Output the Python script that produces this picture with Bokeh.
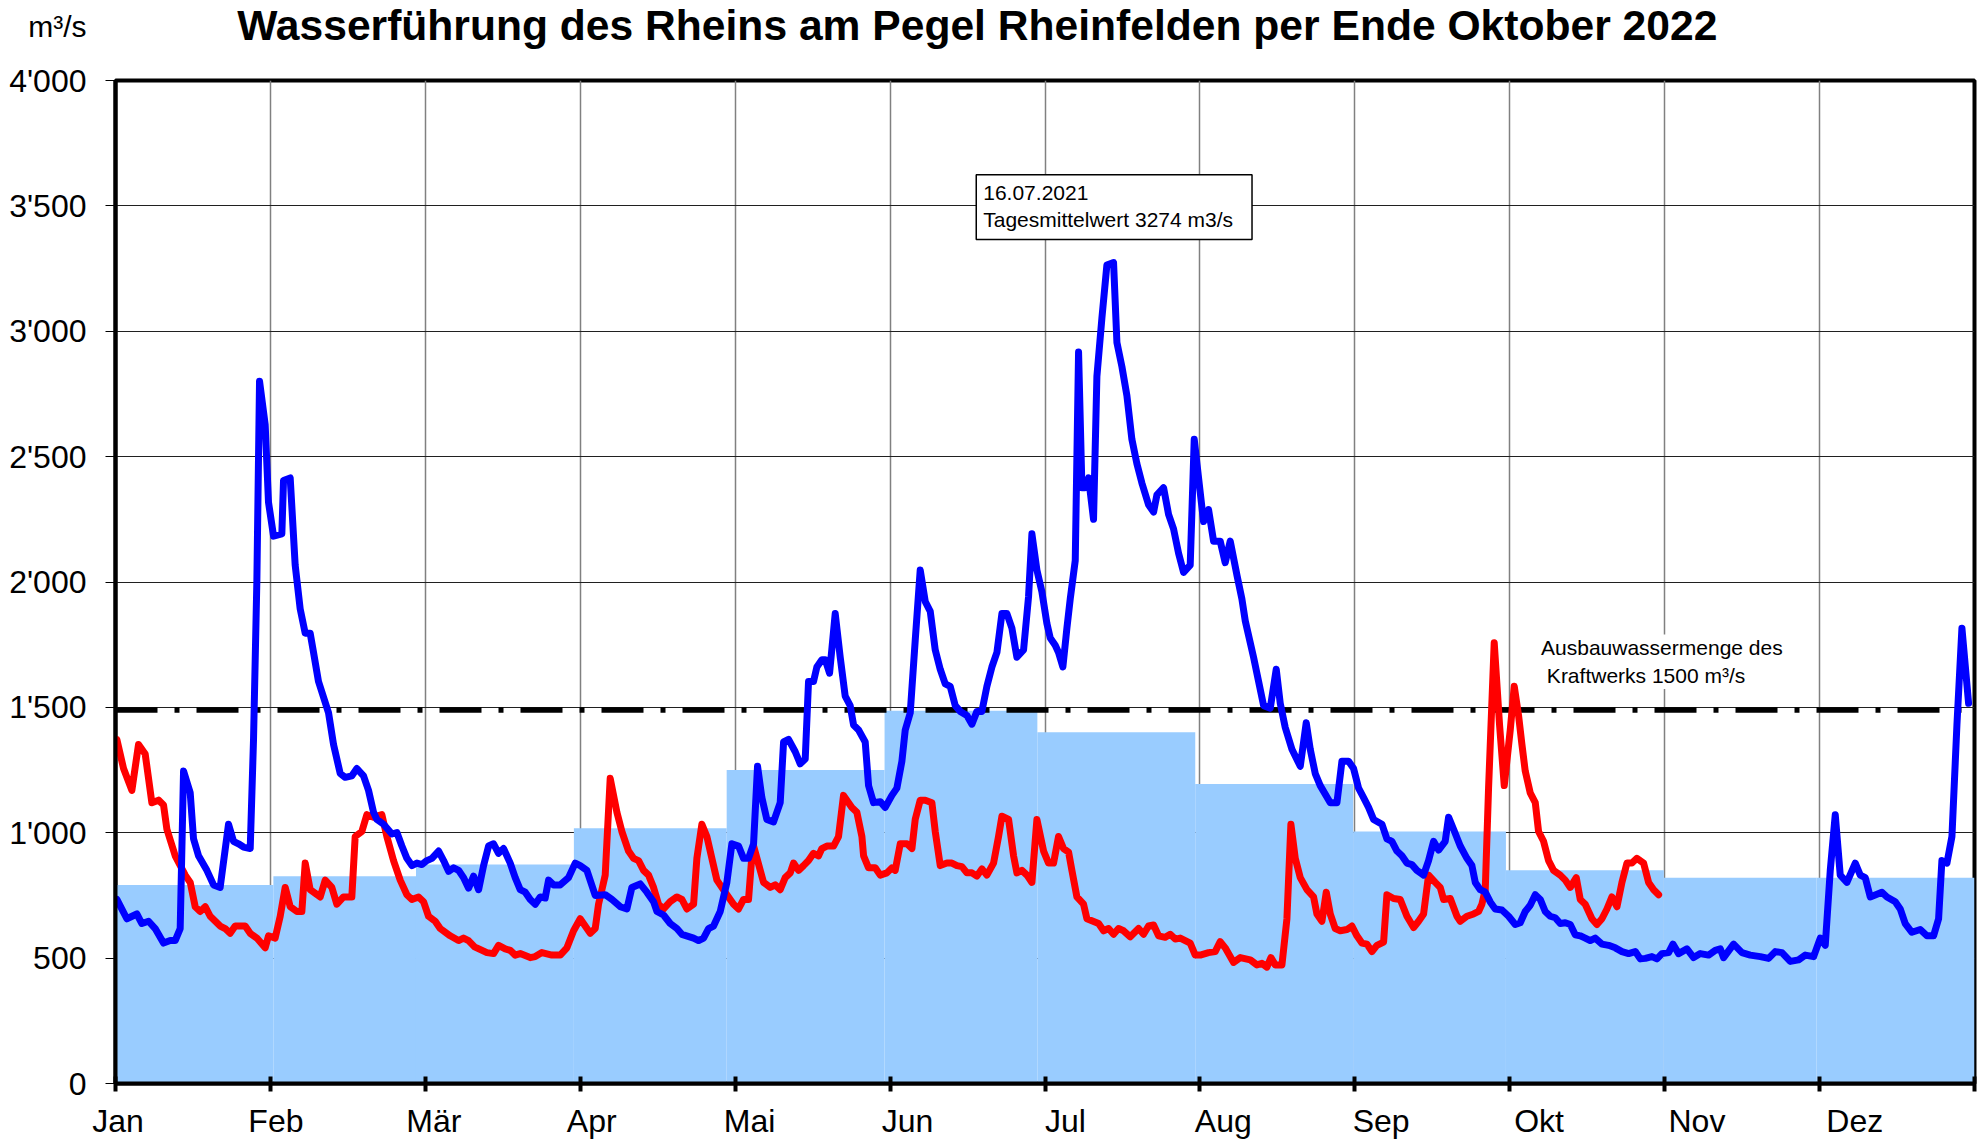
from bokeh.plotting import figure
from bokeh.layouts import column
from bokeh.models import Range1d, FixedTicker, Label
from bokeh.core.properties import value
from bokeh.embed import file_html
from bokeh.resources import INLINE

# ---------------- data ----------------
months = ["Jan", "Feb", "Mär", "Apr", "Mai", "Jun", "Jul", "Aug", "Sep", "Okt", "Nov", "Dez"]
month_days = [31, 28, 31, 30, 31, 30, 31, 31, 30, 31, 30, 31]
# long-term monthly mean discharge (light blue steps), m3/s
monthly_mean = [792, 827, 873, 1018, 1250, 1487, 1401, 1194, 1005, 850, 821, 821]

y_ticks = [0, 500, 1000, 1500, 2000, 2500, 3000, 3500, 4000]
y_tick_labels = ["0", "500", "1'000", "1'500", "2'000", "2'500", "3'000", "3'500", "4'000"]

ausbau_level = 1490  # dash-dot line "Ausbauwassermenge"

# 2021 daily discharge (blue), day of year / m3/s
blue_day = [0.27, 2.23, 4.19, 5.18, 6.49, 7.79, 9.43, 10.74, 11.72, 12.70, 13.36, 14.67, 15.32, 16.30, 17.94,
            19.25, 20.55, 22.19, 23.17, 24.15, 25.14, 26.45, 27.10, 27.76, 28.28, 29.39, 30.04, 31.03, 32.66,
            32.99, 34.30, 35.28, 36.26, 37.24, 38.22, 38.88, 39.86, 41.83, 42.81, 44.12, 45.10, 46.41, 47.39,
            48.70, 49.68, 50.66, 51.32, 52.63, 54.27, 55.25, 56.23, 57.21, 58.20, 59.18, 60.16, 61.14, 62.13,
            63.44, 64.42, 65.40, 66.38, 67.36, 68.35, 69.33, 70.31, 71.29, 72.27, 73.25, 74.23, 75.21, 76.19,
            77.50, 78.48, 79.46, 80.45, 81.43, 82.41, 83.39, 84.37, 85.03, 86.01, 87.32, 88.95, 90.26, 91.24,
            92.55, 94.19, 96.15, 97.46, 99.10, 100.41, 101.39, 103.02, 104.33, 105.64, 106.30, 107.60, 108.91,
            110.22, 111.20, 113.50, 114.48, 115.46, 116.44, 117.42, 118.73, 120.04, 121.02, 122.33, 123.31,
            124.29, 125.28, 126.06, 126.91, 127.89, 129.20, 130.51, 131.17, 132.15, 133.46, 134.44, 135.42,
            136.07, 137.05, 137.71, 138.69, 139.35, 140.20, 141.31, 142.29, 143.27, 144.25, 144.91, 145.90,
            147.20, 147.86, 148.84, 150.15, 151.13, 152.44, 153.42, 154.40, 155.06, 156.04, 157.02, 158.00,
            158.99, 159.97, 160.95, 161.93, 162.91, 163.89, 164.88, 165.86, 167.17, 168.15, 169.13, 170.11,
            171.09, 172.07, 173.06, 174.04, 175.02, 176.00, 176.98, 178.29, 179.27, 179.93, 180.91, 181.89,
            182.87, 183.53, 184.51, 185.16, 186.01, 186.80, 187.45, 188.44, 189.09, 189.75, 190.40, 191.05,
            192.03, 192.69, 193.67, 194.65, 195.96, 196.62, 197.60, 198.58, 199.56, 200.54, 201.52, 202.83,
            203.82, 204.47, 205.78, 206.76, 207.74, 208.72, 209.71, 211.01, 211.80, 212.65, 213.63, 214.61,
            215.60, 216.90, 217.88, 218.87, 220.18, 221.16, 221.82, 223.45, 224.44, 225.42, 226.73, 227.90,
            228.69, 229.67, 230.98, 232.62, 233.79, 234.58, 235.56, 236.54, 238.51, 239.82, 240.80, 242.11,
            243.09, 244.07, 245.05, 246.03, 247.01, 248.65, 249.63, 250.61, 251.60, 252.58, 253.56, 254.54,
            255.52, 256.83, 257.81, 258.79, 259.78, 261.08, 261.74, 262.72, 264.03, 265.34, 266.32, 266.98,
            267.96, 268.94, 269.92, 270.90, 272.21, 273.52, 274.83, 275.81, 276.79, 277.77, 278.76, 279.74,
            280.72, 281.70, 282.68, 283.67, 284.65, 285.63, 286.61, 287.59, 288.57, 289.55, 290.53, 291.85,
            293.16, 294.47, 295.78, 297.09, 298.40, 299.38, 300.36, 301.67, 302.65, 303.63, 304.94, 305.79,
            306.90, 308.54, 309.85, 311.16, 312.79, 314.10, 315.08, 315.74, 317.70, 319.34, 320.97, 322.94,
            324.57, 325.88, 327.19, 328.83, 330.46, 331.77, 333.41, 334.72, 335.70, 336.68, 337.66, 338.64,
            339.95, 341.59, 342.57, 343.55, 344.53, 346.82, 347.81, 349.44, 350.42, 351.40, 352.71, 354.35,
            355.66, 356.97, 357.95, 358.60, 359.59, 360.57, 361.55, 362.53, 363.84]
blue_val = [734, 657, 676, 638, 647, 618, 560, 570, 570, 618, 1246, 1159, 976, 908, 850,
            792, 782, 1034, 966, 956, 943, 937, 1372, 2009, 2801, 2627, 2318, 2183, 2192,
            2405, 2415, 2067, 1893, 1796, 1796, 1719, 1603, 1478, 1352, 1236, 1221, 1227, 1256,
            1227, 1169, 1082, 1053, 1034, 995, 1001, 947, 898, 869, 879, 873, 889, 898,
            927, 889, 846, 860, 850, 821, 779, 827, 773, 869, 947, 956, 918, 937,
            879, 821, 773, 763, 734, 715, 744, 740, 811, 792, 792, 821, 879, 869,
            850, 750, 753, 734, 705, 696, 782, 796, 763, 725, 686, 672, 638,
            618, 595, 580, 570, 580, 618, 628, 686, 802, 956, 947, 898,
            898, 956, 1265, 1140, 1053, 1043, 1120, 1362, 1372, 1323, 1275, 1294,
            1603, 1603, 1661, 1690, 1690, 1636, 1874, 1700, 1545, 1507, 1430, 1410,
            1362, 1188, 1120, 1124, 1101, 1149, 1178, 1285, 1410, 1478, 1768, 2048,
            1922, 1883, 1729, 1652, 1594, 1584, 1507, 1484, 1468, 1433, 1484, 1484,
            1584, 1661, 1719, 1874, 1874, 1816, 1700, 1729, 1941, 2192, 2048, 1961,
            1835, 1777, 1748, 1719, 1661, 1816, 1932, 2086, 2917, 2376, 2376, 2415,
            2250, 2820, 3052, 3264, 3274, 2955, 2859, 2743, 2569, 2472, 2395, 2308,
            2279, 2347, 2376, 2270, 2212, 2115, 2038, 2067, 2569, 2415, 2241, 2289,
            2163, 2163, 2077, 2163, 2028, 1932, 1845, 1700, 1603, 1507, 1497, 1652,
            1516, 1420, 1333, 1265, 1439, 1333, 1236, 1188, 1120, 1120, 1285, 1285,
            1256, 1178, 1140, 1101, 1053, 1034, 976, 966, 927, 908, 879, 873,
            850, 831, 889, 966, 931, 966, 1062, 1014, 947, 898, 869, 802,
            773, 763, 724, 696, 692, 667, 634, 641, 686, 711, 753, 734,
            686, 667, 661, 638, 641, 634, 593, 589, 580, 570, 580, 556,
            551, 541, 526, 518, 526, 497, 499, 506, 497, 518, 522, 556,
            518, 537, 502, 518, 512, 531, 537, 502, 556, 522, 512, 506,
            499, 526, 522, 487, 493, 512, 506, 580, 551, 850, 1072, 831,
            802, 879, 831, 821, 744, 763, 744, 725, 696, 638, 603, 614,
            589, 589, 657, 889, 879, 985, 1430, 1816, 1516]

# 2022 daily discharge until end of October (red)
red_day = [0.27, 1.58, 3.21, 4.52, 5.83, 7.14, 8.45, 9.43, 10.09, 11.72, 13.69, 14.67, 15.65, 16.63, 17.61,
           18.59, 20.55, 21.53, 22.51, 23.50, 25.46, 26.44, 27.75, 29.39, 30.04, 31.35, 32.34, 33.32, 34.30,
           35.61, 36.59, 37.25, 38.22, 40.19, 41.17, 42.48, 43.46, 44.77, 46.40, 47.06, 48.37, 49.35, 50.66,
           52.30, 53.28, 54.59, 55.90, 57.21, 58.19, 59.50, 60.48, 61.46, 62.77, 63.75, 65.71, 67.35, 68.33,
           69.31, 70.50, 72.92, 74.23, 75.21, 76.52, 77.50, 78.48, 79.46, 81.43, 82.41, 83.72, 85.68, 87.32,
           88.63, 89.94, 91.24, 92.22, 93.21, 94.19, 94.84, 95.50, 96.15, 97.13, 98.44, 99.42, 100.73, 101.71,
           102.70, 103.68, 104.66, 105.64, 106.62, 107.60, 108.91, 110.22, 111.20, 112.19, 113.50, 114.15,
           115.13, 116.11, 117.42, 118.08, 120.04, 121.35, 122.33, 123.31, 124.29, 124.95, 125.28, 127.24,
           128.55, 129.53, 130.51, 131.49, 132.48, 133.13, 134.11, 135.09, 136.07, 137.05, 138.04, 138.69,
           139.67, 140.98, 141.96, 142.94, 143.93, 144.58, 145.56, 146.55, 146.88, 147.86, 149.17, 150.15,
           151.46, 152.44, 153.09, 154.08, 155.39, 156.37, 157.02, 158.00, 158.99, 160.29, 160.95, 161.93,
           163.24, 164.22, 165.20, 166.18, 167.17, 168.15, 169.13, 170.11, 171.09, 172.40, 173.38, 174.04,
           175.35, 176.33, 176.98, 177.96, 178.95, 179.93, 180.91, 182.22, 183.20, 184.18, 185.16, 186.14,
           187.13, 187.78, 188.76, 190.07, 190.73, 193.02, 194.00, 194.98, 195.96, 196.94, 197.93, 199.24,
           200.87, 201.85, 202.83, 203.82, 204.80, 206.11, 207.09, 208.07, 209.05, 210.03, 211.01, 212.00,
           212.98, 214.61, 215.92, 216.90, 217.88, 219.53, 220.84, 222.80, 224.11, 225.09, 226.07, 226.86,
           227.71, 229.02, 230.00, 230.78, 231.64, 232.62, 233.93, 235.23, 235.89, 236.87, 237.72, 238.51,
           239.49, 240.47, 241.78, 242.76, 243.74, 244.72, 245.71, 246.69, 247.67, 248.98, 249.63, 250.94,
           252.25, 253.56, 254.87, 255.85, 256.83, 257.81, 259.12, 260.10, 260.76, 262.07, 263.38, 264.03,
           265.34, 266.65, 267.63, 268.28, 268.94, 269.59, 270.70, 271.75, 272.67, 273.85, 274.63, 275.48,
           276.14, 276.79, 277.77, 278.76, 279.41, 280.39, 281.37, 282.35, 283.66, 284.65, 285.63, 286.81,
           287.59, 288.57, 289.88, 290.86, 291.85, 292.83, 293.81, 294.80, 295.78, 296.76, 297.74, 298.72,
           300.03, 301.01, 302.00, 302.98]
red_val = [1372, 1256, 1169, 1352, 1314, 1120, 1130, 1111, 1014, 908, 831, 802, 705, 686, 705,
           667, 628, 618, 599, 628, 628, 599, 580, 541, 589, 580, 667, 782, 705,
           686, 686, 879, 773, 744, 811, 782, 715, 744, 744, 985, 1005, 1072, 1062,
           1072, 985, 889, 811, 753, 734, 744, 725, 667, 647, 618, 589, 570, 580,
           570, 545, 522, 518, 551, 537, 531, 512, 518, 502, 506, 522, 512, 512,
           541, 609, 657, 628, 599, 618, 715, 773, 831, 1217, 1082, 1005, 927, 898,
           889, 850, 831, 782, 715, 696, 725, 744, 734, 696, 715, 898,
           1034, 985, 869, 811, 753, 715, 696, 734, 734, 908, 947, 802,
           782, 792, 773, 821, 840, 879, 850, 869, 889, 918, 908, 937,
           947, 947, 985, 1149, 1120, 1101, 1082, 985, 908, 860, 860, 831,
           840, 860, 850, 956, 956, 937, 1053, 1130, 1130, 1120, 1005, 869,
           879, 879, 869, 865, 840, 840, 827, 856, 831, 879, 985, 1066,
           1053, 908, 840, 850, 831, 802, 1053, 927, 879, 879, 985, 937,
           923, 850, 744, 715, 657, 638, 609, 618, 595, 618, 609, 585,
           618, 595, 628, 632, 589, 583, 595, 576, 580, 570, 560, 512,
           512, 522, 526, 566, 541, 483, 502, 493, 473, 479, 464, 502,
           473, 473, 657, 1034, 898, 821, 773, 744, 676, 647, 763, 676,
           618, 609, 614, 628, 589, 560, 556, 526, 551, 564, 753, 738,
           734, 667, 622, 647, 676, 831, 802, 782, 734, 738, 667, 647,
           667, 676, 686, 715, 773, 1178, 1758, 1430, 1188, 1410, 1584, 1468,
           1352, 1246, 1159, 1120, 1005, 966, 889, 850, 831, 811, 782, 821,
           734, 715, 657, 634, 657, 696, 744, 705, 802, 879, 879, 898,
           879, 802, 773, 753]

title_text = "Wasserführung des Rheins am Pegel Rheinfelden per Ende Oktober 2022"
unit_text = "m³/s"
peak_text = "16.07.2021\nTagesmittelwert 3274 m3/s"
ausbau_text = "Ausbauwassermenge des\n\u00a0Kraftwerks 1500 m³/s"

# ---------------- layout constants ----------------
FONT = "Liberation Sans"
W = 1980
HEAD_H = 52
MAIN_H = 1141 - HEAD_H
n_days = sum(month_days)

# ---------------- header strip (title + unit) ----------------
head = figure(width=W, height=HEAD_H, title=None,
              x_range=Range1d(0, n_days), y_range=Range1d(0, HEAD_H),
              x_axis_type=None, toolbar_location=None, output_backend="svg",
              min_border_left=115, min_border_right=6, min_border_top=0, min_border_bottom=0)
head.outline_line_color = None
head.background_fill_color = "white"
head.border_fill_color = "white"
head.ygrid.visible = False
hy = head.yaxis[0]
hy.ticker = FixedTicker(ticks=[])
hy.axis_line_color = None
hy.major_tick_line_color = None
hy.minor_tick_line_color = None
hy.axis_label = unit_text
hy.axis_label_orientation = "horizontal"
hy.axis_label_text_font = FONT
hy.axis_label_text_font_style = "normal"
hy.axis_label_text_font_size = "30px"
hy.axis_label_text_color = "black"
hy.axis_label_standoff = 29

head.text(x=[169.2], y=[HEAD_H - 24], text=[title_text], text_font=value(FONT), text_font_style="bold",
          text_font_size="42.6px", text_color="black", text_align="center", text_baseline="alphabetic")

# ---------------- main plot ----------------
p = figure(width=W, height=MAIN_H,
           x_range=Range1d(0, n_days), y_range=Range1d(0, 4000),
           output_backend="svg", toolbar_location=None,
           min_border_left=115, min_border_right=6, min_border_top=80 - HEAD_H, min_border_bottom=57)
p.title.text = ""
p.background_fill_color = "white"
p.border_fill_color = "white"
p.outline_line_color = "black"
p.outline_line_width = 4
p.outline_line_alpha = 1.0

# monthly mean steps
lefts = []
acc = 0
for d in month_days:
    lefts.append(acc)
    acc += d
rights = [l + d for l, d in zip(lefts, month_days)]
p.quad(left=lefts, right=rights, bottom=0, top=monthly_mean,
       fill_color="#99CCFF", line_color=None)

# Ausbauwassermenge dash-dot line
p.line(x=[0, n_days], y=[ausbau_level, ausbau_level], line_color="black",
       line_width=5.5, line_dash="42 17 5 17")

# series
p.line(red_day, red_val, line_color="#FF0000", line_width=7, line_join="round", line_cap="round")
p.line(blue_day, blue_val, line_color="#0000FF", line_width=7, line_join="round", line_cap="round")

# ---------------- axes ----------------
grid_pos = [k * n_days / 12 for k in range(13)]
label_pos = [31 * k + 0.5 for k in range(12)]

xa = p.xaxis[0]
xa.ticker = FixedTicker(ticks=label_pos, minor_ticks=grid_pos)
xa.major_label_overrides = {pos: m for pos, m in zip(label_pos, months)}
xa.major_tick_in = 0
xa.major_tick_out = 0
xa.minor_tick_in = 7
xa.minor_tick_out = 8
xa.minor_tick_line_width = 4
xa.minor_tick_line_color = "black"
xa.axis_line_width = 4
xa.axis_line_color = "black"
xa.major_label_text_font = FONT
xa.major_label_text_font_size = "32px"
xa.major_label_text_color = "black"
xa.major_label_standoff = 11

ya = p.yaxis[0]
ya.ticker = FixedTicker(ticks=y_ticks)
ya.major_label_overrides = {t: s for t, s in zip(y_ticks, y_tick_labels)}
ya.major_tick_in = 0
ya.major_tick_out = 10
ya.major_tick_line_width = 1
ya.major_tick_line_color = "black"
ya.minor_tick_line_color = None
ya.axis_line_width = 4
ya.axis_line_color = "black"
ya.major_label_text_font = FONT
ya.major_label_text_font_size = "32px"
ya.major_label_text_color = "black"
ya.major_label_standoff = 19

p.xgrid.ticker = FixedTicker(ticks=grid_pos[1:-1])
p.xgrid.grid_line_color = "#808080"
p.xgrid.grid_line_width = 1.5
p.ygrid.grid_line_color = "#202020"
p.ygrid.grid_line_width = 1

# ---------------- annotations inside the plot ----------------
peak = Label(x=169.0, y=3624, text=peak_text,
             text_font=FONT, text_font_size="21px", text_color="black",
             text_align="left", text_baseline="top",
             background_fill_color="white", border_line_color="black", border_line_width=1.5)
try:
    peak.padding = dict(left=7, right=19, top=6, bottom=8)
except Exception:
    try:
        peak.padding = 7
    except Exception:
        pass
p.add_layout(peak)

ausbau = Label(x=279.5, y=1791, text=ausbau_text,
               text_font=FONT, text_font_size="21px", text_color="black",
               text_align="left", text_baseline="top", background_fill_color="white")
try:
    ausbau.padding = 2
except Exception:
    pass
p.add_layout(ausbau)

layout = column(head, p)
open("out.html", "w").write(file_html(layout, INLINE))
